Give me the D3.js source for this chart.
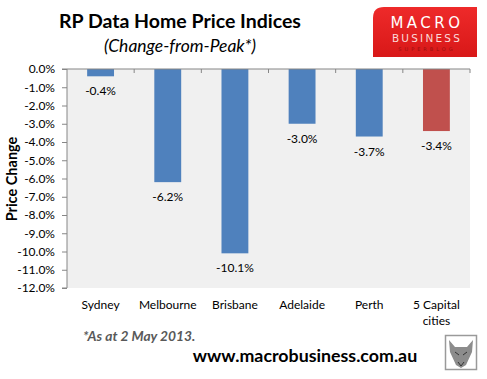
<!DOCTYPE html>
<html><head><meta charset="utf-8">
<script src="https://cdn.jsdelivr.net/npm/d3@7"></script>
<style>body{margin:0;background:#fff}svg{display:block}</style>
</head><body>
<script>
const categories = ["Sydney","Melbourne","Brisbane","Adelaide","Perth","5 Capital cities"];
const values = [-0.4,-6.2,-10.1,-3.0,-3.7,-3.4];
const barColors = ["#4f81bd","#4f81bd","#4f81bd","#4f81bd","#4f81bd","#c0504d"];
const yTicks = [0,-1,-2,-3,-4,-5,-6,-7,-8,-9,-10,-11,-12];

const W=487,H=379;
const svg=d3.select("body").append("svg").attr("width",W).attr("height",H);
const font="Lato, 'Open Sans', sans-serif";
const L=67,R=470,T=69,B=288;
const x=d3.scaleBand().domain(categories).range([L,R]).paddingInner(0.6).paddingOuter(0.3);
const xb=d3.scaleBand().domain(categories).range([L,R]);
const y=d3.scaleLinear().domain([-12,0]).range([B,T]);

svg.append("rect").attr("x",L).attr("y",T).attr("width",R-L).attr("height",B-T).attr("fill","#f0f0f0");

// bars
svg.selectAll("rect.bar").data(values).enter().append("rect")
 .attr("x",(d,i)=>x(categories[i])).attr("width",x.bandwidth())
 .attr("y",y(0)).attr("height",d=>y(d)-y(0)).attr("fill",(d,i)=>barColors[i]);

// value labels
svg.selectAll("text.val").data(values).enter().append("text")
 .attr("x",(d,i)=>x(categories[i])+x.bandwidth()/2).attr("y",d=>y(d)+19)
 .attr("text-anchor","middle").attr("font-family",font).attr("font-size",12).attr("fill","#000")
 .text(d=>d.toFixed(1)+"%");

// y axis
const ya=d3.axisLeft(y).tickValues(yTicks).tickSize(5).tickPadding(7).tickFormat(d=>d.toFixed(1)+"%");
const yg=svg.append("g").attr("transform",`translate(${L},0)`).call(ya);
yg.select(".domain").attr("stroke","#868686").attr("d",`M-5,${T}H0V${B}H-5`);
yg.selectAll(".tick line").attr("stroke","#868686");
yg.selectAll(".tick text").attr("font-family",font).attr("font-size",12).attr("fill","#000");

// top axis (at zero) with category boundary ticks
const xa=svg.append("g");
xa.append("line").attr("x1",L).attr("x2",R).attr("y1",T).attr("y2",T).attr("stroke","#868686").attr("stroke-width",1.2);
xa.selectAll("line.t").data(categories).enter().append("line")
 .attr("x1",d=>xb(d)+xb.bandwidth()).attr("x2",d=>xb(d)+xb.bandwidth())
 .attr("y1",T).attr("y2",T+4).attr("stroke","#868686");

// category labels
const cl=svg.selectAll("text.cat").data(categories).enter().append("text")
 .attr("x",d=>xb(d)+xb.bandwidth()/2).attr("y",309)
 .attr("text-anchor","middle").attr("font-family",font).attr("font-size",12).attr("fill","#000");
cl.each(function(d){
  const t=d3.select(this);
  if(d==="5 Capital cities"){
    t.append("tspan").attr("x",xb(d)+xb.bandwidth()/2).text("5 Capital");
    t.append("tspan").attr("x",xb(d)+xb.bandwidth()/2).attr("dy",16).text("cities");
  } else t.text(d);
});

// y title
svg.append("text").attr("transform","translate(17,179) rotate(-90)").attr("text-anchor","middle")
 .attr("font-family",font).attr("font-weight","bold").attr("font-size",14.5).text("Price Change");

// titles
svg.append("text").attr("x",180).attr("y",28).attr("text-anchor","middle").attr("font-family",font)
 .attr("font-weight","bold").attr("font-size",19.5).text("RP Data Home Price Indices");
svg.append("text").attr("x",180).attr("y",52).attr("text-anchor","middle").attr("font-family",font)
 .attr("font-style","italic").attr("font-size",17.5).text("(Change-from-Peak*)");

// footnote
svg.append("text").attr("x",83).attr("y",341).attr("font-family",font).attr("font-weight","bold")
 .attr("font-style","italic").attr("font-size",13.8).attr("fill","#595959").text("*As at 2 May 2013.");
svg.append("text").attr("x",305).attr("y",362).attr("text-anchor","middle").attr("font-family",font)
 .attr("font-weight","bold").attr("font-size",17.8).attr("fill","#000").text("www.macrobusiness.com.au");

// logo
const defs=svg.append("defs");
const g1=defs.append("linearGradient").attr("id","lg").attr("x1",0).attr("x2",0).attr("y1",0).attr("y2",1);
g1.append("stop").attr("offset","0").attr("stop-color","#ee2a2a");
g1.append("stop").attr("offset","1").attr("stop-color","#d81818");
svg.append("path").attr("d","M384,7H477V57H373V18Q373,7 384,7Z").attr("fill","url(#lg)");
svg.append("text").attr("x",427).attr("y",28).attr("text-anchor","middle").attr("font-family","'DejaVu Sans',sans-serif")
 .attr("font-size",15).attr("letter-spacing",3.5).attr("fill","#fff").text("MACRO");
svg.append("text").attr("x",427).attr("y",42).attr("text-anchor","middle").attr("font-family","'DejaVu Sans',sans-serif")
 .attr("font-size",10.5).attr("letter-spacing",2.2).attr("fill","#fbdada").text("BUSINESS");
svg.append("text").attr("x",427).attr("y",51).attr("text-anchor","middle").attr("font-family","'DejaVu Sans',sans-serif")
 .attr("font-size",5).attr("letter-spacing",3).attr("fill","#9a1010").text("SUPERBLOG");

// wolf icon
svg.append("rect").attr("x",445.5).attr("y",335.5).attr("width",31).attr("height",34).attr("fill","#fff").attr("stroke","#9a9a9a").attr("stroke-width",1.5);
svg.append("path").attr("d","M449,340L455,347L467,347L473,340L472,352L466,365L461,368L456,365L450,352Z").attr("fill","#8c8c8c");
svg.append("path").attr("d","M455,352L459,355M467,352L463,355M458,362L461,366L464,362").attr("stroke","#333").attr("fill","none");
</script>
</body></html>
